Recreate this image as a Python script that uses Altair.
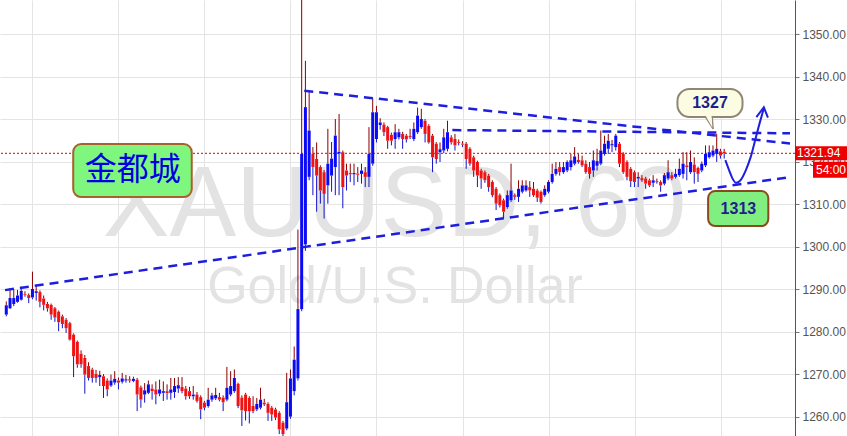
import altair as alt
import pandas as pd

# ---- XAUUSD hourly candles (open, high, low, close) ----
opens = [
    1284.0, 1285.5, 1286.5, 1287.0, 1287.5, 1288.8, 1288.6, 1288.0, 1289.1, 1289.3,
    1287.8, 1286.5, 1286.3, 1285.5, 1284.7, 1283.6, 1282.8, 1282.0, 1279.3, 1277.6,
    1274.8, 1273.8, 1271.9, 1271.1, 1270.1, 1269.3, 1269.5, 1268.5, 1267.3, 1268.0,
    1268.5, 1268.2, 1268.5, 1268.8, 1268.4,
    1268.7, 1266.9, 1265.2, 1265.6, 1266.6, 1266.4, 1265.4, 1265.6, 1266.0, 1265.6,
    1265.8, 1266.6, 1267.0, 1266.6, 1266.0, 1264.8, 1265.2, 1264.6, 1263.3, 1262.5,
    1264.0, 1264.3, 1264.6, 1264.5, 1264.0, 1265.2, 1266.0, 1267.7, 1264.5, 1265.2,
    1264.4, 1262.5, 1261.7, 1262.1, 1263.3, 1263.0, 1262.1, 1261.7, 1260.9, 1258.6,
    1257.2, 1260.0, 1266.0, 1269.0,
    1285.3, 1300.5, 1316.4, 1321.8, 1320.6, 1318.7, 1317.5, 1314.4, 1316.7, 1318.7,
    1321.9, 1322.2, 1317.9, 1317.3, 1317.0, 1317.2, 1317.1, 1317.5, 1316.4, 1319.5,
    1325.3, 1328.6, 1328.7, 1328.1, 1326.3, 1325.3, 1325.7, 1326.5, 1326.1, 1326.0,
    1325.3, 1326.9, 1328.1, 1329.6, 1328.4, 1326.1, 1324.2, 1322.2, 1322.6, 1323.0,
    1325.7, 1325.3, 1324.6, 1324.2, 1324.2, 1323.0, 1321.0, 1319.9, 1317.9, 1317.5,
    1316.7, 1315.2, 1313.6, 1312.1, 1310.9, 1309.3, 1310.9, 1312.1, 1311.7, 1312.9,
    1313.2, 1314.0, 1313.6, 1313.2, 1312.9, 1312.1, 1312.9, 1315.2, 1317.1, 1318.7,
    1317.5, 1317.9, 1318.7, 1319.5, 1320.4, 1320.3, 1319.5, 1318.7, 1317.9, 1319.0,
    1319.5, 1321.8, 1323.0, 1323.8, 1323.4, 1324.2, 1321.8, 1319.9, 1318.3, 1317.5,
    1316.0, 1316.1, 1316.0, 1315.6, 1315.0, 1315.4, 1315.2, 1314.8, 1316.0, 1316.8,
    1316.4, 1316.8, 1317.1, 1319.1, 1317.5, 1319.3, 1318.5, 1317.9, 1319.1, 1321.0,
    1321.4, 1321.8, 1322.4, 1322.3,
]
highs = [
    1287.1, 1290.2, 1290.0, 1289.8, 1290.6, 1289.5, 1289.0, 1294.1, 1291.0, 1289.7,
    1288.5, 1287.0, 1286.6, 1285.8, 1285.0, 1284.0, 1283.2, 1282.3, 1279.6, 1277.9,
    1275.6, 1274.5, 1272.8, 1271.5, 1271.0, 1270.8, 1270.0, 1269.0, 1269.9, 1270.7,
    1269.2, 1270.3, 1269.8, 1269.5, 1269.4,
    1269.1, 1267.3, 1267.9, 1268.5, 1267.6, 1268.3, 1268.7, 1268.3, 1267.6, 1269.1,
    1269.1, 1269.3, 1269.3, 1267.2, 1267.0, 1267.2, 1265.8, 1265.0, 1263.7, 1266.8,
    1265.6, 1266.8, 1265.6, 1265.0, 1271.7, 1270.7, 1271.1, 1268.0, 1265.0, 1265.6,
    1264.8, 1264.8, 1264.4, 1266.8, 1264.2, 1263.4, 1262.5, 1262.1, 1261.3, 1259.0,
    1270.3, 1271.1, 1276.5, 1304.0,
    1358.5, 1343.7, 1336.7, 1323.4, 1324.5, 1319.1, 1318.0, 1327.7, 1324.6, 1330.0,
    1331.2, 1322.6, 1319.5, 1319.5, 1319.5, 1318.7, 1319.5, 1318.7, 1328.1, 1334.9,
    1333.1, 1330.2, 1329.2, 1328.4, 1326.8, 1328.8, 1327.7, 1327.0, 1326.5, 1327.7,
    1329.2, 1332.7, 1332.4, 1330.0, 1328.8, 1326.5, 1324.6, 1324.5, 1327.7, 1329.6,
    1326.2, 1326.5, 1325.2, 1324.8, 1324.6, 1323.4, 1321.4, 1320.2, 1318.3, 1317.9,
    1317.1, 1315.6, 1314.0, 1312.5, 1311.3, 1313.2, 1319.5, 1312.5, 1315.6, 1315.6,
    1315.6, 1315.4, 1315.2, 1313.6, 1313.2, 1314.4, 1315.6, 1319.5, 1319.9, 1319.9,
    1319.9, 1320.3, 1321.8, 1323.4, 1321.8, 1321.4, 1320.3, 1319.9, 1322.6, 1323.0,
    1327.3, 1326.1, 1326.5, 1325.1, 1326.5, 1324.6, 1322.2, 1320.3, 1318.7, 1317.9,
    1317.5, 1316.8, 1316.4, 1316.0, 1316.8, 1316.0, 1315.6, 1317.3, 1320.3, 1317.5,
    1318.3, 1320.7, 1322.2, 1322.2, 1322.6, 1321.0, 1318.8, 1320.0, 1323.8, 1323.8,
    1323.8, 1326.5, 1323.0, 1323.0,
]
lows = [
    1283.6, 1285.3, 1286.0, 1286.8, 1287.3, 1288.2, 1286.7, 1287.6, 1287.3, 1285.7,
    1285.0, 1284.7, 1282.8, 1282.3, 1280.1, 1280.8, 1279.7, 1277.9, 1269.3, 1271.5,
    1271.5, 1265.4, 1268.5, 1268.0, 1268.0, 1267.2, 1264.4, 1264.8, 1267.0, 1267.5,
    1266.4, 1267.8, 1268.0, 1268.0, 1268.1,
    1261.3, 1262.1, 1263.3, 1265.3, 1264.0, 1262.9, 1264.8, 1263.7, 1264.0, 1264.0,
    1264.4, 1265.6, 1265.5, 1264.0, 1264.2, 1264.0, 1263.3, 1259.4, 1261.5, 1262.1,
    1263.5, 1263.9, 1263.6, 1261.3, 1263.6, 1264.8, 1265.6, 1262.0, 1257.8, 1259.1,
    1258.4, 1260.8, 1261.3, 1261.7, 1262.5, 1259.0, 1259.0, 1259.2, 1255.9, 1255.3,
    1256.8, 1259.5, 1265.0, 1268.5,
    1284.8, 1299.0, 1315.6, 1312.1, 1308.2, 1310.1, 1306.6, 1310.1, 1312.9, 1312.1,
    1312.1, 1309.0, 1313.2, 1315.2, 1314.4, 1315.2, 1314.8, 1314.0, 1314.0, 1319.0,
    1324.5, 1327.5, 1326.0, 1323.0, 1323.8, 1323.0, 1325.2, 1323.0, 1324.5, 1325.3,
    1324.8, 1326.5, 1327.7, 1324.5, 1324.2, 1317.5, 1319.5, 1319.9, 1322.0, 1322.4,
    1324.0, 1322.6, 1323.8, 1323.4, 1318.3, 1319.0, 1316.4, 1314.0, 1313.6, 1315.0,
    1312.9, 1311.6, 1308.6, 1309.2, 1306.6, 1308.9, 1310.5, 1311.0, 1310.5, 1312.5,
    1312.9, 1311.7, 1311.7, 1310.5, 1310.1, 1311.7, 1312.5, 1314.8, 1316.7, 1316.7,
    1317.1, 1317.5, 1317.9, 1319.1, 1319.5, 1318.7, 1317.1, 1316.0, 1316.4, 1317.9,
    1319.1, 1321.4, 1321.8, 1322.2, 1322.6, 1318.7, 1317.1, 1315.6, 1314.0, 1314.0,
    1314.0, 1315.2, 1313.6, 1314.0, 1314.0, 1314.8, 1312.9, 1314.4, 1315.6, 1315.6,
    1316.0, 1316.4, 1316.0, 1315.6, 1317.1, 1314.8, 1315.2, 1317.5, 1318.7, 1320.7,
    1321.0, 1319.9, 1320.7, 1320.7,
]
closes = [
    1286.2, 1287.9, 1287.9, 1288.5, 1289.6, 1288.6, 1287.9, 1290.0, 1289.5, 1287.0,
    1286.3, 1285.5, 1284.0, 1283.3, 1282.2, 1281.8, 1280.8, 1278.1, 1274.2, 1272.3,
    1272.3, 1269.9, 1269.1, 1269.1, 1269.1, 1269.8, 1267.2, 1266.4, 1268.5, 1268.9,
    1268.0, 1269.0, 1268.8, 1268.5, 1268.9,
    1265.2, 1264.0, 1266.2, 1267.6, 1266.0, 1265.2, 1266.4, 1266.0, 1265.5, 1266.4,
    1267.2, 1267.4, 1266.0, 1264.8, 1264.8, 1265.2, 1263.7, 1261.7, 1262.1, 1264.0,
    1265.0, 1265.1, 1264.0, 1263.4, 1266.8, 1267.2, 1269.1, 1262.5, 1261.5, 1261.3,
    1261.3, 1261.3, 1263.0, 1264.0, 1262.9, 1260.9, 1260.5, 1259.8, 1257.0, 1255.9,
    1263.4, 1269.0, 1273.4, 1285.3,
    1321.8, 1332.8, 1327.3, 1318.7, 1316.7, 1313.2, 1312.4, 1319.5, 1320.7, 1326.1,
    1322.3, 1314.0, 1316.7, 1317.0, 1317.3, 1316.9, 1317.9, 1316.4, 1321.8, 1331.6,
    1331.6, 1329.2, 1326.9, 1324.9, 1324.9, 1326.9, 1326.9, 1325.3, 1325.2, 1325.7,
    1327.7, 1330.8, 1330.0, 1326.5, 1324.5, 1321.0, 1320.6, 1322.9, 1325.7, 1326.9,
    1324.5, 1323.8, 1324.4, 1324.0, 1320.6, 1319.5, 1317.9, 1316.7, 1316.0, 1315.6,
    1314.0, 1312.1, 1310.1, 1309.7, 1308.2, 1312.1, 1313.2, 1311.7, 1313.6, 1314.4,
    1314.4, 1313.2, 1312.1, 1311.5, 1310.5, 1313.6, 1315.2, 1317.1, 1318.3, 1317.5,
    1318.7, 1319.9, 1320.3, 1321.2, 1319.9, 1319.1, 1317.5, 1317.1, 1320.3, 1320.1,
    1322.6, 1324.2, 1324.9, 1324.1, 1326.1, 1319.5, 1317.5, 1316.4, 1315.4, 1315.2,
    1316.4, 1315.6, 1314.8, 1314.4, 1315.6, 1315.2, 1314.4, 1316.8, 1317.5, 1316.0,
    1317.1, 1318.3, 1319.5, 1318.7, 1319.9, 1317.5, 1317.1, 1319.5, 1321.8, 1322.2,
    1322.6, 1323.0, 1321.4, 1321.94,
]

# price axis ticks and vertical time grid (in bar-index units)
price_ticks = [1260, 1270, 1280, 1290, 1300, 1310, 1320, 1330, 1340, 1350]
time_grid = [6.8, 29.85, 52.9, 75.95, 99.0, 122.05, 145.1, 168.15, 191.2]

last_price = closes[-1]
countdown = "54:00"

# hand-drawn analysis lines: (bar index, price) end points
support_i, support_p = [-0.343, 209.6], [1289.76, 1316.35]
resist_i, resist_p = [79.7, 209.6], [1336.66, 1324.24]
flat_i, flat_p = [119.3, 209.6], [1327.41, 1326.64]
path_i = [192.3, 193.3, 194.2, 195.2, 196.4, 197.8, 199.1, 200.4, 201.7, 202.6]
path_p = [1320.35, 1318.0, 1316.05, 1315.0, 1315.65, 1318.0, 1321.1, 1325.45, 1329.75, 1332.5]
head_i = [200.6, 202.6, 203.7]
head_p = [1330.47, 1332.75, 1330.35]

# ---- palette ----
BLUE = "#0a0af5"
RED = "#f01212"
WICK_UP = "#8b0000"
WICK_DN = "#1414c8"
DRAW = "#1e1ee0"
NAVY = "#1f1f8c"

W, H, RIGHT = 795, 436, 52

xs = alt.Scale(domain=[-0.343, 209.6], nice=False, zero=False)
ys = alt.Scale(domain=[1255.45, 1358.0], nice=False, zero=False)
x_axis = alt.Axis(values=time_grid, labels=False, ticks=False, domain=False,
                  grid=True, gridColor="#e4e4e4", gridWidth=1, title=None, zindex=0)
y_axis = alt.Axis(orient="right", values=price_ticks, format=".2f", grid=True,
                  gridColor="#e4e4e4", gridWidth=1, domainColor="#555555",
                  domainWidth=1, tickColor="#777777", tickSize=4, labelColor="#555555",
                  labelFont="Liberation Sans", labelFontSize=12, labelPadding=3,
                  title=None, zindex=0)


def X(f):
    return alt.X(f, type="quantitative", scale=xs, axis=x_axis)


def Y(f):
    return alt.Y(f, type="quantitative", scale=ys, axis=y_axis)


df = pd.DataFrame({"i": range(len(closes)), "o": opens, "h": highs, "l": lows, "c": closes})
df["top"] = df[["o", "c"]].max(axis=1)
df["bot"] = df[["o", "c"]].min(axis=1)

# watermark
wm1 = alt.Chart(pd.DataFrame({"t": ["XAUUSD, 60"]})).mark_text(
    font="Liberation Sans", fontSize=100, color="#e3e3e3", align="center",
    baseline="alphabetic").encode(x=alt.value(394.5), y=alt.value(236), text="t:N")
wm2 = alt.Chart(pd.DataFrame({"t": ["Gold/U.S. Dollar"]})).mark_text(
    font="Liberation Sans", fontSize=52, color="#e3e3e3", align="center",
    baseline="alphabetic").encode(x=alt.value(395), y=alt.value(303), text="t:N")

price_df = pd.DataFrame({"p": [last_price], "lab": [f"{last_price:.2f}"], "cd": [countdown]})
price_line = alt.Chart(price_df).mark_rule(color="#d40000", strokeDash=[2, 2], strokeWidth=1).encode(
    y=Y("p"))

base = alt.Chart(df)
wick_up = base.mark_rule(color=WICK_UP, strokeWidth=1, clip=True).encode(
    x=X("i"), y=Y("top"), y2="h:Q")
wick_dn = base.mark_rule(color=WICK_DN, strokeWidth=1, clip=True).encode(
    x=X("i"), y=Y("l"), y2="bot:Q")
bodies = base.mark_bar(size=3, clip=True).encode(
    x=X("i"), y=Y("bot"), y2="top:Q",
    color=alt.when(alt.datum.c >= alt.datum.o).then(alt.value(BLUE)).otherwise(alt.value(RED)))

lines_df = pd.DataFrame({
    "line": ["s", "s", "r", "r", "f", "f"],
    "i": support_i + resist_i + flat_i,
    "p": support_p + resist_p + flat_p,
})
trend = alt.Chart(lines_df).mark_line(color=DRAW, strokeWidth=2.5, strokeDash=[9, 6], clip=True).encode(
    x=X("i"), y=Y("p"), detail="line:N")

curve = alt.Chart(pd.DataFrame({"i": path_i, "p": path_p})).mark_line(
    color=DRAW, strokeWidth=2, interpolate="monotone").encode(x=X("i"), y=Y("p"))
head = alt.Chart(pd.DataFrame({"i": head_i, "p": head_p, "k": [0, 1, 2]})).mark_line(
    color=DRAW, strokeWidth=2).encode(x=X("i"), y=Y("p"), order="k:Q")

# brand box
brand = pd.DataFrame({"i0": [17.9], "i1": [49.6], "p0": [1324.12], "p1": [1311.65],
                      "ic": [33.8], "pc": [1317.9], "t": ["金都城"]})
brand_box = alt.Chart(brand).mark_rect(fill="#7ff77f", stroke="#a8602c", strokeWidth=2,
                                       cornerRadius=8).encode(
    x=X("i0"), x2="i1:Q", y=Y("p0"), y2="p1:Q")
brand_txt = alt.Chart(brand).mark_text(font="Noto Sans CJK SC", fontSize=32, color="#0000e0",
                                       align="center", baseline="middle").encode(
    x=X("ic"), y=Y("pc"), text="t:N")

# target callouts
hi_df = pd.DataFrame({"i0": [179.5], "i1": [196.9], "p0": [1337.06], "p1": [1330.47],
                      "ic": [188.2], "pc": [1333.8], "ti": [187.7], "tp": [1329.2], "t": ["1327"]})
tail = alt.Chart(hi_df).mark_point(
    shape="M-0.6,-1.15L0.77,1L0.6,-1.15", size=169, filled=True, fill="#fcfce2",
    stroke="#8f8676", strokeWidth=1.5, opacity=1).encode(x=X("ti"), y=Y("tp"))
hi_box = alt.Chart(hi_df).mark_rect(fill="#fcfce2", stroke="#8f8676", strokeWidth=2,
                                    cornerRadius=12).encode(
    x=X("i0"), x2="i1:Q", y=Y("p0"), y2="p1:Q")
tail_cover = alt.Chart(hi_df).mark_point(
    shape="M-0.52,-1.3L0.66,0.8L0.5,-1.3Z", size=169, filled=True, fill="#fcfce2",
    strokeWidth=0, opacity=1).encode(x=X("ti"), y=Y("tp"))
hi_txt = alt.Chart(hi_df).mark_text(font="Liberation Sans", fontWeight="bold", fontSize=16,
                                    color=NAVY, align="center", baseline="middle").encode(
    x=X("ic"), y=Y("pc"), text="t:N")

lo_df = pd.DataFrame({"i0": [187.7], "i1": [203.8], "p0": [1313.06], "p1": [1304.82],
                      "ic": [195.8], "pc": [1308.9], "t": ["1313"]})
lo_box = alt.Chart(lo_df).mark_rect(fill="#80ef80", stroke="#8b4a1e", strokeWidth=2,
                                    cornerRadius=7).encode(
    x=X("i0"), x2="i1:Q", y=Y("p0"), y2="p1:Q")
lo_txt = alt.Chart(lo_df).mark_text(font="Liberation Sans", fontWeight="bold", fontSize=16,
                                    color=NAVY, align="center", baseline="middle").encode(
    x=X("ic"), y=Y("pc"), text="t:N")

# last-price tag and bar countdown on the price scale
tag = alt.Chart(price_df).mark_rect(color="#ee0000", clip=False, yOffset=-7, y2Offset=7).encode(
    x=alt.value(W), x2=alt.value(W + RIGHT), y=Y("p"), y2="p:Q")
tag_txt = alt.Chart(price_df).mark_text(color="white", font="Liberation Sans", fontSize=12,
                                        align="left", baseline="middle", clip=False).encode(
    x=alt.value(W + 2), y=Y("p"), text="lab:N")
cd_box = alt.Chart(price_df).mark_rect(color="#ee0000", clip=False, yOffset=8.5, y2Offset=24.5).encode(
    x=alt.value(813), x2=alt.value(W + RIGHT), y=Y("p"), y2="p:Q")
cd_txt = alt.Chart(price_df).mark_text(color="white", font="Liberation Sans", fontSize=12,
                                       align="right", baseline="middle", dy=16.5, clip=False).encode(
    x=alt.value(W + RIGHT - 1), y=Y("p"), text="cd:N")

chart = alt.layer(
    wm1, wm2, price_line, wick_up, wick_dn, bodies, trend, curve, head,
    brand_box, brand_txt, tail, hi_box, tail_cover, hi_txt, lo_box, lo_txt,
    tag, tag_txt, cd_box, cd_txt,
).properties(
    width=W, height=H,
    autosize=alt.AutoSizeParams(type="none"),
    padding={"left": 0, "top": 0, "right": RIGHT, "bottom": 0},
    background="white",
).configure_view(strokeWidth=0)

chart.save("out.html", embed_options={"renderer": "svg", "actions": False})
